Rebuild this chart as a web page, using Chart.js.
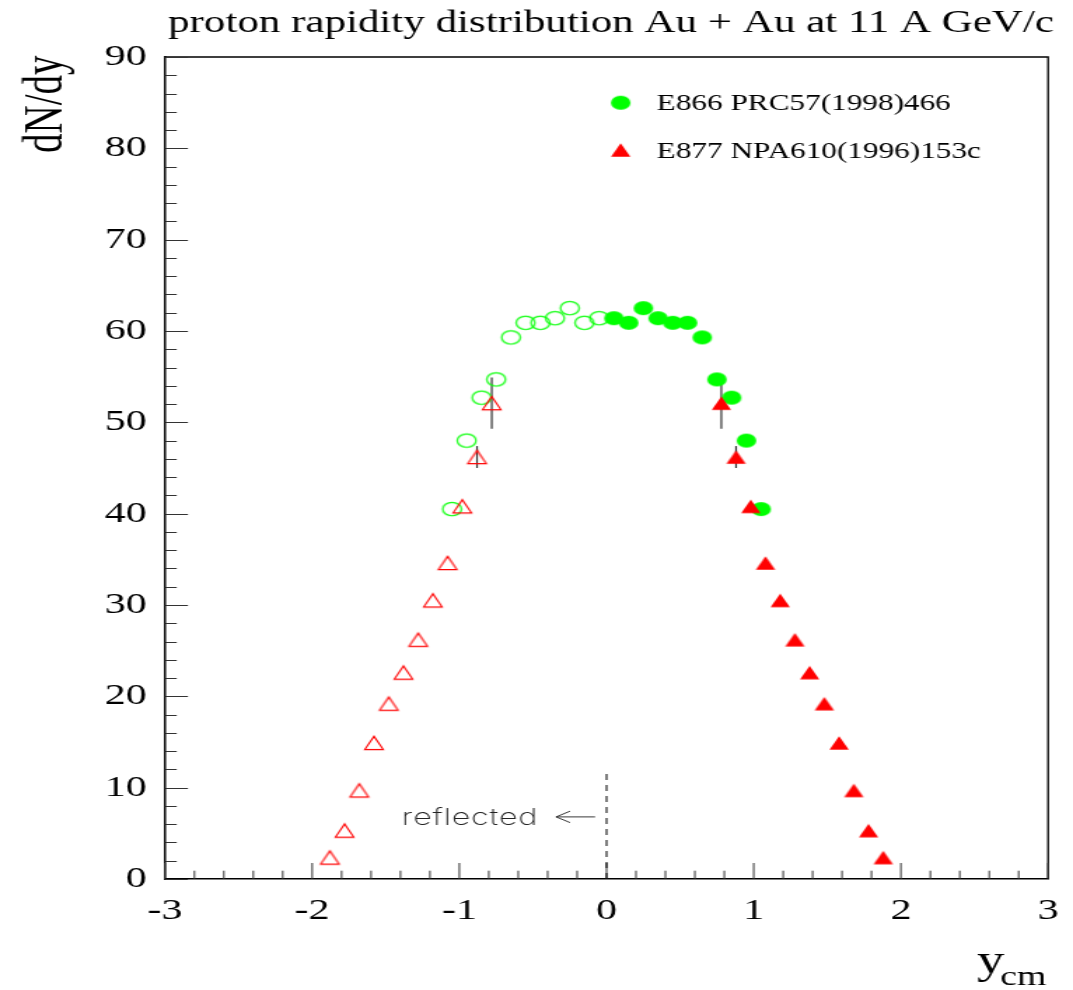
<!DOCTYPE html>
<html>
<head>
<meta charset="utf-8">
<title>proton rapidity distribution Au + Au at 11 A GeV/c</title>
<script src="https://cdn.jsdelivr.net/npm/chart.js@4/dist/chart.umd.min.js"></script>
<style>
  html, body { margin: 0; padding: 0; background: #fff; overflow: hidden; }
  #wrap { width: 1073px; height: 990px; overflow: hidden; }
  #c { display: block; transform-origin: 0 0; }
</style>
</head>
<body>
<div id="wrap"><canvas id="c" width="766" height="990"></canvas></div>
<script>
// E866, PRC 57 (1998) 466: proton rapidity (y_cm) and dN/dy
const e866Y    = [0.05, 0.15, 0.25, 0.35, 0.45, 0.55, 0.65, 0.75, 0.85, 0.95, 1.05];
const e866dNdy = [61.4, 60.9, 62.5, 61.4, 60.9, 60.9, 59.3, 54.7, 52.7, 48.0, 40.5];

// E877, NPA 610 (1996) 153c
const e877Y    = [0.78, 0.88, 0.98, 1.08, 1.18, 1.28, 1.38, 1.48, 1.58, 1.68, 1.78, 1.88];
const e877dNdy = [52.1, 46.2, 40.8, 34.6, 30.5, 26.2, 22.6, 19.2, 14.9, 9.7, 5.3, 2.35];
const e877Err  = [2.8, 1.2, 0, 0, 0, 0, 0, 0, 0, 0, 0, 0];

// axis tick labels
const xTickValues = [-3, -2, -1, 0, 1, 2, 3];
const yTickValues = [0, 10, 20, 30, 40, 50, 60, 70, 80, 90];

// vertical marker at y_cm = 0 (dN/dy range)
const reflectMarkY = [0, 12];

// The page is drawn on a narrower canvas and stretched horizontally,
// the way the plot was exported (round markers become ellipses).
const W = 766, H = 990;
const SX = 1073 / W;
const canvas = document.getElementById('c');
canvas.style.transform = 'scaleX(' + SX + ')';

const SERIF = '"Liberation Serif", "Times New Roman", serif';

function marker(shape, color, filled) {
  const c = document.createElement('canvas');
  c.width = 18; c.height = 18;
  const g = c.getContext('2d');
  const cx = 9, cy = 9;
  g.beginPath();
  if (shape === 'circle') {
    g.arc(cx, cy, filled ? 7 : 6.7, 0, Math.PI * 2);
  } else {
    const hw = filled ? 6.9 : 6.6, hh = filled ? 6.8 : 6.6;
    g.moveTo(cx - hw, cy + hh);
    g.lineTo(cx + hw, cy + hh);
    g.lineTo(cx, cy - hh);
    g.closePath();
  }
  if (filled) { g.fillStyle = color; g.fill(); }
  else { g.strokeStyle = color; g.lineWidth = 1.15; g.stroke(); }
  return c;
}

const GREEN = '#00ff00', RED = '#ff0000';
const mk = {
  greenFull: marker('circle', GREEN, true),
  greenOpen: marker('circle', GREEN, false),
  redFull: marker('triangle', RED, true),
  redOpen: marker('triangle', RED, false)
};

const pts = (xs, ys, sign) => xs.map((v, i) => ({ x: sign * v, y: ys[i] }));

const framePlugin = {
  id: 'frame',
  beforeDatasetsDraw(chart) {
    const { ctx, chartArea: a, scales: { x, y } } = chart;
    ctx.save();
    ctx.strokeStyle = '#000';
    // frame top and right
    ctx.lineWidth = 1.3;
    ctx.beginPath();
    ctx.moveTo(a.left, a.top);
    ctx.lineTo(a.right, a.top);
    ctx.lineTo(a.right, a.bottom);
    ctx.stroke();

    // inward ticks on x
    ctx.strokeStyle = '#333';
    ctx.lineWidth = 1;
    for (let k = -15; k <= 15; k++) {
      const px = x.getPixelForValue(k * 0.2);
      const len = (k % 5 === 0) ? 16 : 8.3;
      ctx.beginPath();
      ctx.moveTo(px, a.bottom);
      ctx.lineTo(px, a.bottom - len);
      ctx.stroke();
    }
    // inward ticks on y
    for (let v = 0; v <= 90; v += 2) {
      const py = Math.round(y.getPixelForValue(v)) + 0.5;
      const len = (v % 10 === 0) ? 16.4 : 8.4;
      ctx.beginPath();
      ctx.moveTo(a.left, py);
      ctx.lineTo(a.left + len, py);
      ctx.stroke();
    }

    // error bars of E877 (measured and reflected)
    ctx.strokeStyle = '#333';
    ctx.lineWidth = 1.2;
    e877Y.forEach((v, i) => {
      const e = e877Err[i];
      if (!e) return;
      [v, -v].forEach(xv => {
        const px = x.getPixelForValue(xv);
        ctx.beginPath();
        ctx.moveTo(px, y.getPixelForValue(e877dNdy[i] - e));
        ctx.lineTo(px, y.getPixelForValue(e877dNdy[i] + e));
        ctx.stroke();
      });
    });
    ctx.restore();
  },
  afterDraw(chart) {
    const { ctx, chartArea: a, scales: { x, y } } = chart;
    ctx.save();
    ctx.fillStyle = '#000';

    // title
    ctx.font = '30.7px ' + SERIF;
    ctx.textAlign = 'left';
    ctx.textBaseline = 'alphabetic';
    ctx.fillText('proton rapidity distribution Au + Au at 11 A GeV/c', 120, 32);

    // y axis title
    ctx.save();
    ctx.translate(44, 153);
    ctx.rotate(-Math.PI / 2);
    ctx.font = '39px ' + SERIF;
    ctx.fillText('dN/dy', 0, 0);
    ctx.restore();

    // x axis title with subscript
    ctx.font = '39px ' + SERIF;
    ctx.fillText('y', 697.5, 973);
    ctx.font = '27px ' + SERIF;
    ctx.fillText('cm', 714, 985);

    // legend
    const lx = 443.1;
    const rows = [
      { img: mk.greenFull, text: 'E866 PRC57(1998)466', cy: 102.7 },
      { img: mk.redFull, text: 'E877 NPA610(1996)153c', cy: 150 }
    ];
    ctx.font = '22.3px ' + SERIF;
    rows.forEach(r => {
      ctx.drawImage(r.img, lx - r.img.width / 2, r.cy - r.img.height / 2);
      ctx.fillText(r.text, lx + 25.7, r.cy + 7.5);
    });

    // "reflected" note with arrow pointing to negative rapidity
    ctx.fillStyle = '#222';
    ctx.font = '200 23px Inter, "DejaVu Sans", sans-serif';
    if ('letterSpacing' in ctx) ctx.letterSpacing = '0.6px';
    ctx.fillText('reflected', x.getPixelForValue(-1.391), y.getPixelForValue(5.9));
    if ('letterSpacing' in ctx) ctx.letterSpacing = '0px';
    const ay = y.getPixelForValue(6.8);
    const tipX = x.getPixelForValue(-0.343);
    const endX = x.getPixelForValue(-0.078);
    const headX = x.getPixelForValue(-0.343 + 0.095);
    ctx.strokeStyle = '#222';
    ctx.lineWidth = 0.9;
    ctx.beginPath();
    ctx.moveTo(endX, ay);
    ctx.lineTo(tipX, ay);
    ctx.moveTo(headX, ay - 5.7);
    ctx.lineTo(tipX, ay);
    ctx.lineTo(headX, ay + 5.7);
    ctx.stroke();
    ctx.restore();
  }
};

new Chart(canvas.getContext('2d'), {
  type: 'scatter',
  data: {
    datasets: [
      {
        label: 'E866 PRC57(1998)466',
        data: pts(e866Y, e866dNdy, 1),
        pointStyle: mk.greenFull, pointRadius: 7, order: 2
      },
      {
        label: 'E866 reflected',
        data: pts(e866Y, e866dNdy, -1),
        pointStyle: mk.greenOpen, pointRadius: 7, order: 3
      },
      {
        label: 'E877 NPA610(1996)153c',
        data: pts(e877Y, e877dNdy, 1),
        pointStyle: mk.redFull, pointRadius: 7, order: 0
      },
      {
        label: 'E877 reflected',
        data: pts(e877Y, e877dNdy, -1),
        pointStyle: mk.redOpen, pointRadius: 7, order: 1
      },
      {
        type: 'line',
        label: 'y_cm = 0',
        data: reflectMarkY.map(v => ({ x: 0, y: v })),
        borderColor: '#000', borderWidth: 1, borderDash: [6, 5],
        pointRadius: 0, showLine: true, fill: false, order: 4
      }
    ]
  },
  options: {
    responsive: false,
    animation: false,
    events: [],
    layout: { padding: { left: 0, right: W - 748.2, top: 57, bottom: H - 879 - 70 } },
    plugins: { legend: { display: false }, tooltip: { enabled: false } },
    scales: {
      x: {
        type: 'linear', min: -3, max: 3,
        grid: { display: false, drawTicks: false },
        border: { display: true, color: '#000', width: 1.6 },
        afterBuildTicks: s => { s.ticks = xTickValues.map(v => ({ value: v })); },
        afterFit: s => { s.height = 70; s.paddingLeft = 0; s.paddingRight = 0; },
        ticks: {
          color: '#000', padding: 14, maxRotation: 0, autoSkip: false,
          font: { family: SERIF, size: 30 }
        }
      },
      y: {
        type: 'linear', min: 0, max: 90,
        grid: { display: false, drawTicks: false },
        border: { display: true, color: '#000', width: 1.5 },
        afterBuildTicks: s => { s.ticks = yTickValues.map(v => ({ value: v })); },
        afterFit: s => { s.width = 117.8; s.paddingTop = 0; s.paddingBottom = 0; },
        ticks: {
          color: '#000', padding: 13, autoSkip: false,
          font: { family: SERIF, size: 30 }
        }
      }
    }
  },
  plugins: [framePlugin]
});
</script>
</body>
</html>
